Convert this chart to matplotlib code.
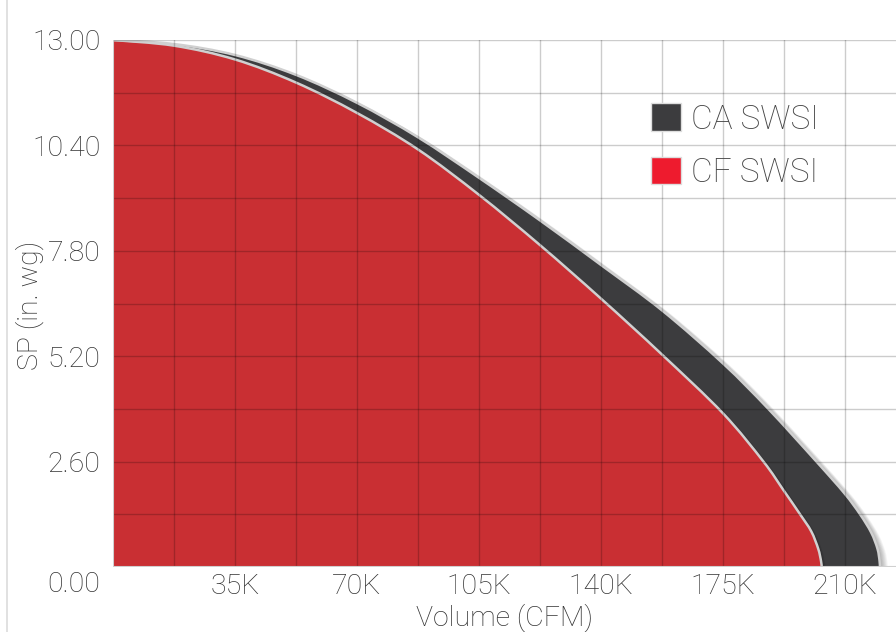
import matplotlib
matplotlib.use("Agg")
from matplotlib import pyplot as plt
from matplotlib.patches import Patch, PathPatch
from matplotlib.path import Path
from matplotlib.lines import Line2D
import matplotlib.transforms as mtransforms
import numpy as np

# данные (объём в тыс. CFM, давление в in. wg)
cf_q = [0, 17.5, 35, 52.5, 70, 87.5, 105, 122.5, 140, 157.5, 175, 186.6, 192.3, 197.1, 200.3, 202.3, 203.1, 203.3]
cf_p = [13.0, 12.86, 12.52, 11.95, 11.2, 10.3, 9.18, 7.94, 6.62, 5.24, 3.79, 2.6, 1.9, 1.3, 0.88, 0.45, 0.15, 0.0]

ca_q = [0, 17.5, 35, 52.5, 70, 87.5, 105, 122.5, 140, 157.5, 175, 188, 201.8, 209.8, 214.3, 217.5, 219.3, 219.9, 220]
ca_p = [13.0, 12.9, 12.63, 12.14, 11.45, 10.6, 9.6, 8.55, 7.45, 6.33, 5.02, 3.9, 2.6, 1.82, 1.3, 0.85, 0.45, 0.15, 0.0]

x_ticks = [35, 70, 105, 140, 175, 210]
x_labels = ["35K", "70K", "105K", "140K", "175K", "210K"]
y_ticks = [2.6, 5.2, 7.8, 10.4, 13.0]
y_labels = ["2.60", "5.20", "7.80", "10.40", "13.00"]
series = ["CA SWSI", "CF SWSI"]

plt.rcParams['font.family'] = ['Roboto', 'DejaVu Sans']
plt.rcParams['font.weight'] = 'light'
txt = '#333333'


# гладкая кривая через точки (Catmull-Rom -> кубические Безье)
def smooth_path(q, p, closed=True):
    pts = np.column_stack([q, p]).astype(float)
    verts = [pts[0]]
    codes = [Path.MOVETO]
    n = len(pts)
    for i in range(n - 1):
        p0 = pts[i - 1] if i > 0 else pts[i]
        p1 = pts[i]
        p2 = pts[i + 1]
        p3 = pts[i + 2] if i + 2 < n else pts[i + 1]
        c1 = p1 + (p2 - p0) / 6
        c2 = p2 - (p3 - p1) / 6
        verts += [c1, c2, p2]
        codes += [Path.CURVE4] * 3
    if closed:
        verts += [(0, 0), (0, 0)]
        codes += [Path.LINETO, Path.CLOSEPOLY]
    return Path(verts, codes)


W, H = 896, 632
fig = plt.figure(figsize=(W / 100, H / 100), dpi=100)
ax = fig.add_axes([113 / W, 1 - 567 / H, 1 - 113 / W, (567 - 40) / H])
ax.set_xlim(0, (W - 113) / 3.486)
ax.set_ylim(0, 13)

dark = '#3c3c3e'
red = '#c92f33'

# тень тёмной кривой
ca_shape = smooth_path(ca_q, ca_p)
for i in range(1, 10):
    off = mtransforms.offset_copy(ax.transData, fig=fig, x=i * 0.9, y=-i * 0.35, units='dots')
    ax.add_patch(PathPatch(ca_shape, fc='black', alpha=0.04, lw=0, transform=off, zorder=1))
ax.add_patch(PathPatch(ca_shape, fc=dark, lw=0, zorder=2))

# тень красной кривой
cf_shape = smooth_path(cf_q, cf_p)
for i in range(1, 6):
    off = mtransforms.offset_copy(ax.transData, fig=fig, x=i * 0.8, y=-i * 0.3, units='dots')
    ax.add_patch(PathPatch(cf_shape, fc='black', alpha=0.06, lw=0, transform=off, zorder=3))
ax.add_patch(PathPatch(cf_shape, fc=red, lw=0, zorder=4))

ax.add_patch(PathPatch(smooth_path(ca_q, ca_p, closed=False), fc='none',
                       ec='#d0d0d0', lw=1.8, zorder=5))
ax.add_patch(PathPatch(smooth_path(cf_q, cf_p, closed=False), fc='none',
                       ec='#d0d0d0', lw=1.8, zorder=5))

# сетка поверх заливки
for gx in np.arange(17.5, 225, 17.5):
    ax.axvline(gx, color='black', alpha=0.2, lw=1.0, zorder=6)
for gy in np.arange(1.3, 13.1, 1.3):
    ax.axhline(gy, color='black', alpha=0.2, lw=1.0, zorder=6)

ax.set_xticks(x_ticks)
ax.set_xticklabels(x_labels)
ax.set_yticks(y_ticks)
ax.set_yticklabels(y_labels)
ax.tick_params(which='both', length=0, labelsize=20.5, labelcolor=txt)
ax.tick_params(axis='y', pad=9)
ax.tick_params(axis='x', pad=4)
for s in ax.spines.values():
    s.set_visible(False)
ax.axhline(0, color='#d0d0d0', lw=1.5, zorder=7)
ax.axvline(0, color='#d0d0d0', lw=1.5, zorder=7)

ax.annotate("0.00", xy=(0, 0), xycoords='data', xytext=(-13, -18),
            textcoords='offset pixels', ha='right', va='center',
            fontsize=20.5, color=txt, annotation_clip=False)

fig.text(504 / W, 1 - 618 / H, "Volume (CFM)", ha='center', va='center',
         fontsize=20.5, color=txt)
fig.text(30 / W, 1 - 305 / H, "SP (in. wg)", ha='center', va='center',
         rotation=90, fontsize=20.5, color=txt)

fig.add_artist(Line2D([7 / W, 7 / W], [0, 1], color='#dcdcdc', lw=1.2))

handles = [Patch(facecolor=dark, edgecolor='#dddddd'),
           Patch(facecolor='#ee1b2e', edgecolor='#dddddd')]
leg = ax.legend(handles, series, loc='upper left', bbox_to_anchor=(638 / W, 1 - 90 / H),
                bbox_transform=fig.transFigure, frameon=False, fontsize=24,
                handlelength=0.9, handleheight=0.9, handletextpad=0.3,
                labelspacing=0.63, borderaxespad=0)
for t in leg.get_texts():
    t.set_color('#444444')
leg.set_zorder(10)

fig.savefig("out.png", dpi=100)
